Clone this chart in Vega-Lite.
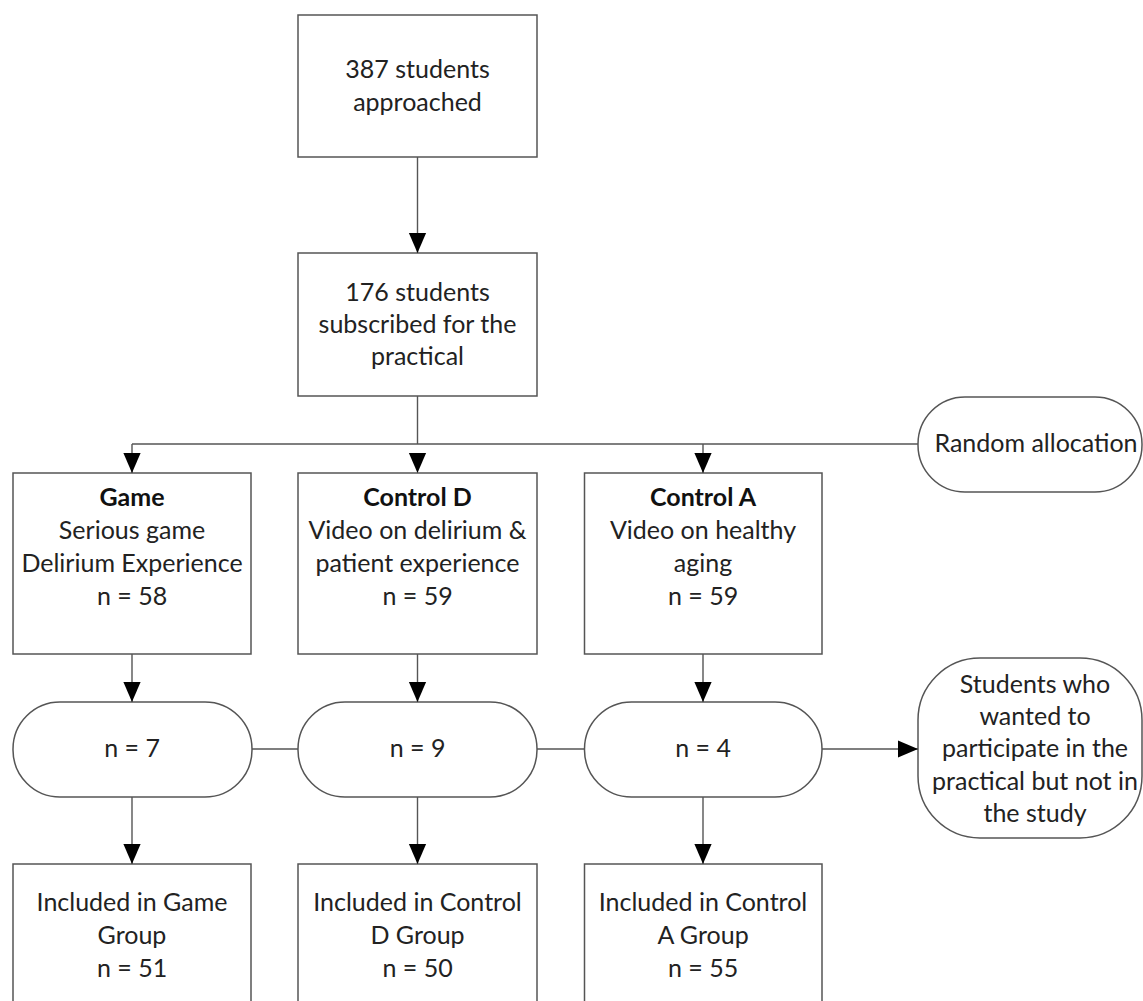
{
  "$schema": "https://vega.github.io/schema/vega-lite/v6.json",
  "width": 1143,
  "height": 1001,
  "padding": 0,
  "autosize": {"type": "fit", "contains": "padding"},
  "background": "white",
  "config": {"view": {"stroke": null}},
  "datasets": {
    "lines": [
      {"x": 417.5, "y": 157, "x2": 417.5, "y2": 253},
      {"x": 417.5, "y": 396, "x2": 417.5, "y2": 444},
      {"x": 132, "y": 444, "x2": 918, "y2": 444},
      {"x": 132, "y": 444, "x2": 132, "y2": 473},
      {"x": 703, "y": 444, "x2": 703, "y2": 473},
      {"x": 132, "y": 654, "x2": 132, "y2": 702},
      {"x": 417.5, "y": 654, "x2": 417.5, "y2": 702},
      {"x": 703, "y": 654, "x2": 703, "y2": 702},
      {"x": 252, "y": 749, "x2": 298, "y2": 749},
      {"x": 537, "y": 749, "x2": 584.5, "y2": 749},
      {"x": 822, "y": 749, "x2": 918, "y2": 749},
      {"x": 132, "y": 797, "x2": 132, "y2": 864},
      {"x": 417.5, "y": 797, "x2": 417.5, "y2": 864},
      {"x": 703, "y": 797, "x2": 703, "y2": 864}
    ],
    "boxes": [
      {"x": 298, "x2": 537, "y": 15, "y2": 157},
      {"x": 298, "x2": 537, "y": 253, "y2": 396},
      {"x": 13, "x2": 251, "y": 473, "y2": 654},
      {"x": 298, "x2": 537, "y": 473, "y2": 654},
      {"x": 584.5, "x2": 822, "y": 473, "y2": 654},
      {"x": 13, "x2": 251, "y": 864, "y2": 1010},
      {"x": 298, "x2": 537, "y": 864, "y2": 1010},
      {"x": 584.5, "x2": 822, "y": 864, "y2": 1010}
    ],
    "pills": [
      {"x": 918, "x2": 1142, "y": 397, "y2": 492},
      {"x": 13, "x2": 252, "y": 702, "y2": 797},
      {"x": 298, "x2": 537, "y": 702, "y2": 797},
      {"x": 584.5, "x2": 822, "y": 702, "y2": 797}
    ],
    "bigpill": [
      {"x": 918, "x2": 1142, "y": 658, "y2": 838}
    ],
    "heads": [
      {"x": 417.5, "y": 253, "dir": "down"},
      {"x": 132, "y": 473, "dir": "down"},
      {"x": 417.5, "y": 473, "dir": "down"},
      {"x": 703, "y": 473, "dir": "down"},
      {"x": 132, "y": 702, "dir": "down"},
      {"x": 417.5, "y": 702, "dir": "down"},
      {"x": 703, "y": 702, "dir": "down"},
      {"x": 918, "y": 749, "dir": "right"},
      {"x": 132, "y": 864, "dir": "down"},
      {"x": 417.5, "y": 864, "dir": "down"},
      {"x": 703, "y": 864, "dir": "down"}
    ],
    "labels": [
      {"x": 417.5, "y": 70, "text": "387 students"},
      {"x": 417.5, "y": 103, "text": "approached"},
      {"x": 417.5, "y": 293, "text": "176 students"},
      {"x": 417.5, "y": 325, "text": "subscribed for the"},
      {"x": 417.5, "y": 357, "text": "practical"},
      {"x": 1036, "y": 444, "text": "Random allocation"},
      {"x": 132, "y": 531, "text": "Serious game"},
      {"x": 132, "y": 564, "text": "Delirium Experience"},
      {"x": 132, "y": 597, "text": "n = 58"},
      {"x": 417.5, "y": 531, "text": "Video on delirium &"},
      {"x": 417.5, "y": 564, "text": "patient experience"},
      {"x": 417.5, "y": 597, "text": "n = 59"},
      {"x": 703, "y": 531, "text": "Video on healthy"},
      {"x": 703, "y": 564, "text": "aging"},
      {"x": 703, "y": 597, "text": "n = 59"},
      {"x": 132, "y": 749, "text": "n = 7"},
      {"x": 417.5, "y": 749, "text": "n = 9"},
      {"x": 703, "y": 749, "text": "n = 4"},
      {"x": 1035, "y": 685, "text": "Students who"},
      {"x": 1035, "y": 717, "text": "wanted to"},
      {"x": 1035, "y": 749, "text": "participate in the"},
      {"x": 1035, "y": 782, "text": "practical but not in"},
      {"x": 1035, "y": 814, "text": "the study"},
      {"x": 132, "y": 903, "text": "Included in Game"},
      {"x": 132, "y": 936, "text": "Group"},
      {"x": 132, "y": 969, "text": "n = 51"},
      {"x": 417.5, "y": 903, "text": "Included in Control"},
      {"x": 417.5, "y": 936, "text": "D Group"},
      {"x": 417.5, "y": 969, "text": "n = 50"},
      {"x": 703, "y": 903, "text": "Included in Control"},
      {"x": 703, "y": 936, "text": "A Group"},
      {"x": 703, "y": 969, "text": "n = 55"}
    ],
    "titles": [
      {"x": 132, "y": 498, "text": "Game"},
      {"x": 417.5, "y": 498, "text": "Control D"},
      {"x": 703, "y": 498, "text": "Control A"}
    ]
  },
  "encoding": {
    "x": {"field": "x", "type": "quantitative", "scale": {"domain": [0, 1143], "nice": false, "zero": false}, "axis": null},
    "y": {"field": "y", "type": "quantitative", "scale": {"domain": [0, 1001], "nice": false, "zero": false, "reverse": true}, "axis": null}
  },
  "layer": [
    {
      "data": {"name": "lines"},
      "mark": {"type": "rule", "stroke": "#555555", "strokeWidth": 1.4},
      "encoding": {"x2": {"field": "x2"}, "y2": {"field": "y2"}}
    },
    {
      "data": {"name": "boxes"},
      "mark": {"type": "rect", "fill": "white", "stroke": "#555555", "strokeWidth": 1.5, "clip": true},
      "encoding": {"x2": {"field": "x2"}, "y2": {"field": "y2"}}
    },
    {
      "data": {"name": "pills"},
      "mark": {"type": "rect", "fill": "white", "stroke": "#555555", "strokeWidth": 1.5, "cornerRadius": 47},
      "encoding": {"x2": {"field": "x2"}, "y2": {"field": "y2"}}
    },
    {
      "data": {"name": "bigpill"},
      "mark": {"type": "rect", "fill": "white", "stroke": "#555555", "strokeWidth": 1.5, "cornerRadius": 62},
      "encoding": {"x2": {"field": "x2"}, "y2": {"field": "y2"}}
    },
    {
      "data": {"name": "heads"},
      "mark": {"type": "point", "filled": true, "color": "#000000", "opacity": 1, "size": 1600, "strokeWidth": 0},
      "encoding": {
        "shape": {
          "field": "dir",
          "type": "nominal",
          "scale": {"domain": ["down", "right"], "range": ["M -0.43 -1 L 0.43 -1 L 0 0 Z", "M -1 -0.43 L -1 0.43 L 0 0 Z"]},
          "legend": null
        }
      }
    },
    {
      "data": {"name": "labels"},
      "mark": {"type": "text", "font": "Lato", "fontSize": 25, "color": "#222222", "baseline": "middle", "align": "center"},
      "encoding": {"text": {"field": "text"}}
    },
    {
      "data": {"name": "titles"},
      "mark": {"type": "text", "font": "Lato", "fontSize": 25, "fontWeight": "bold", "color": "#111111", "baseline": "middle", "align": "center"},
      "encoding": {"text": {"field": "text"}}
    }
  ]
}
